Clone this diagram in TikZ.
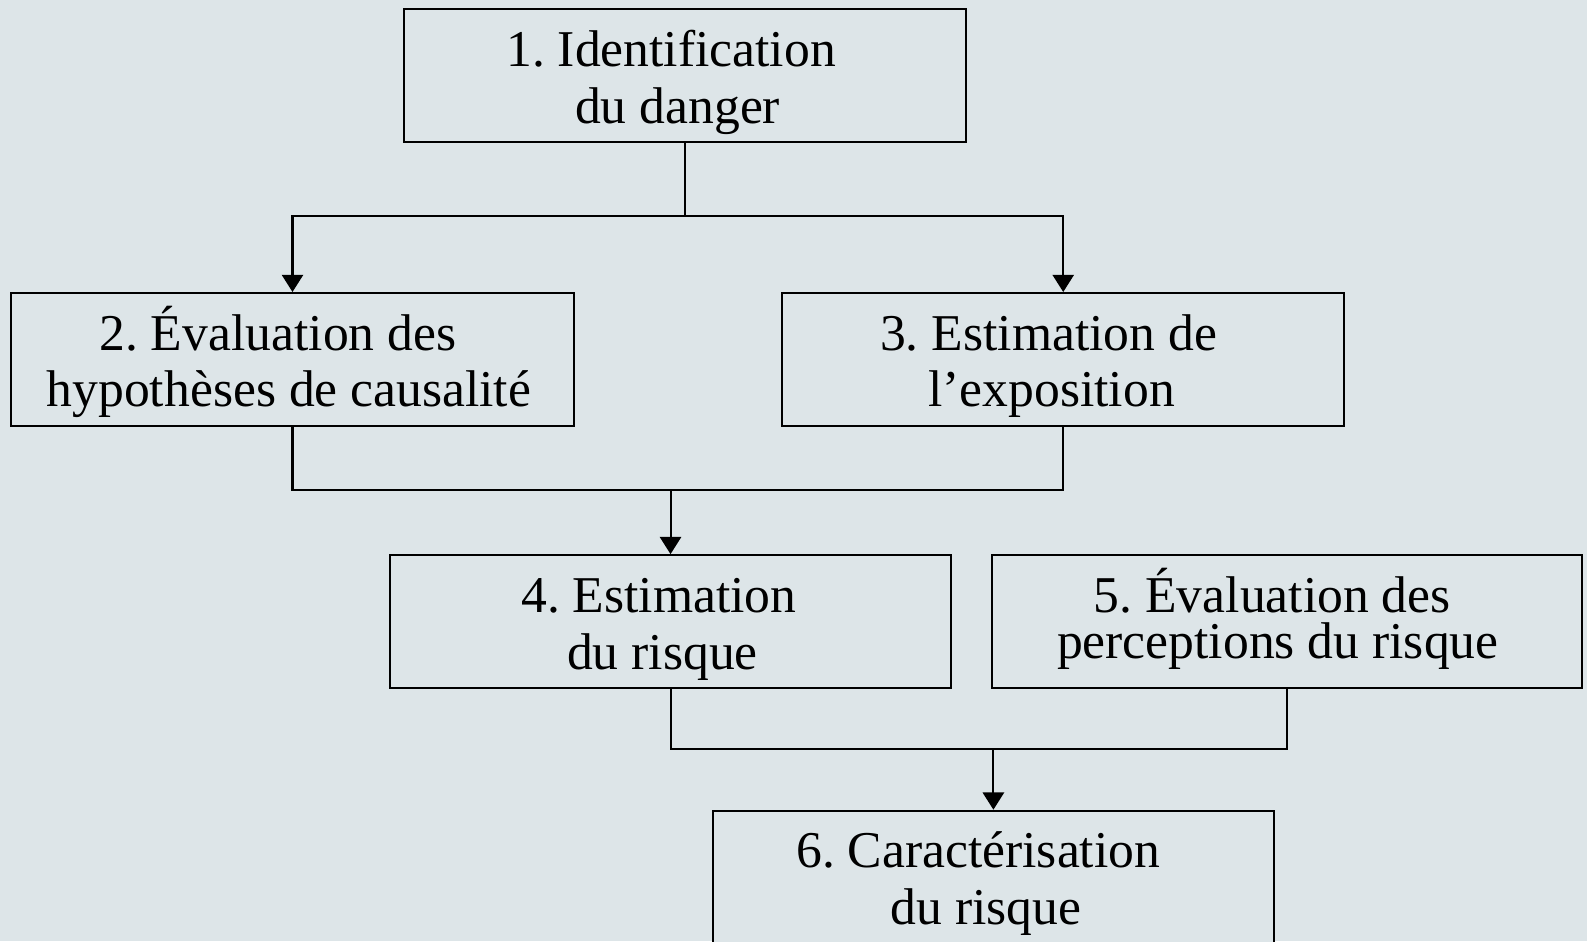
\documentclass[tikz,border=0pt]{standalone}
\usepackage{fontspec}
\setmainfont{Liberation Serif}
\usetikzlibrary{arrows.meta}
\definecolor{bg}{RGB}{221,229,232}
\frenchspacing
\tikzset{
  box/.style={draw=black, line width=1pt, fill=bg, minimum height=65.5pt, inner sep=0pt},
  tl/.style={font=\frenchspacing\fontsize{25.5pt}{28.5pt}\selectfont, inner sep=0pt, anchor=base},
  conn/.style={line width=1pt, draw=black},
  arr/.style={conn, -{Triangle[width=10.5pt,length=8.5pt]}},
}
\begin{document}
\begin{tikzpicture}[x=0.5pt,y=-0.5pt]
\fill[bg] (0,0) rectangle (1568,930);
\useasboundingbox (0,0) rectangle (1568,930);
\clip (0,0) rectangle (1568,930);
% boxes
\node[box, minimum width=277.5pt] (b1) at (676.5,74.5) {};
\node[box, minimum width=278pt] (b2) at (289,355) {};
\node[box, minimum width=277.5pt] (b3) at (1050.5,355) {};
\node[box, minimum width=277.5pt] (b4) at (662.5,614) {};
\node[box, minimum width=291.5pt] (b5) at (1271.5,614) {};
\node[box, minimum width=277.5pt, minimum height=85pt, anchor=north] (b6) at (981.5,800) {};
% texts
\node[tl] (t1a) at (663,66) {1. Identification};
\node[tl] (t1b) at (669.5,122) {du danger};
\node[tl] (t2a) at (274.5,346) {2. Évaluation des};
\node[tl] (t2b) at (285.5,402) {hypothèses de causalité};
\node[tl] (t3a) at (1036,346) {3. Estimation de};
\node[tl] (t3b) at (1039,402) {l’exposition};
\node[tl] (t4a) at (651,605) {4. Estimation};
\node[tl] (t4b) at (654.5,661) {du risque};
\node[tl] (t5a) at (1257,605) {5. Évaluation des};
\node[tl] (t5b) at (1262.5,651) {perceptions du risque};
\node[tl] (t6a) at (966.5,857) {6. Caractérisation};
\node[tl] (t6b) at (974,913) {du risque};
% connectors
\coordinate (j1) at (676.5,213);
\coordinate (j2) at (662.5,484);
\coordinate (j3) at (981.5,740);
\draw[conn] (b1.south) -- (j1);
\draw[arr] (j1) -| (b2.north);
\draw[arr] (j1) -| (b3.north);
\draw[conn] (b2.south) |- (j2) -| (b3.south);
\draw[arr] (j2) -- (b4.north);
\draw[conn] (b4.south) |- (j3) -| (b5.south);
\draw[arr] (j3) -- (b6.north);
\end{tikzpicture}
\end{document}
